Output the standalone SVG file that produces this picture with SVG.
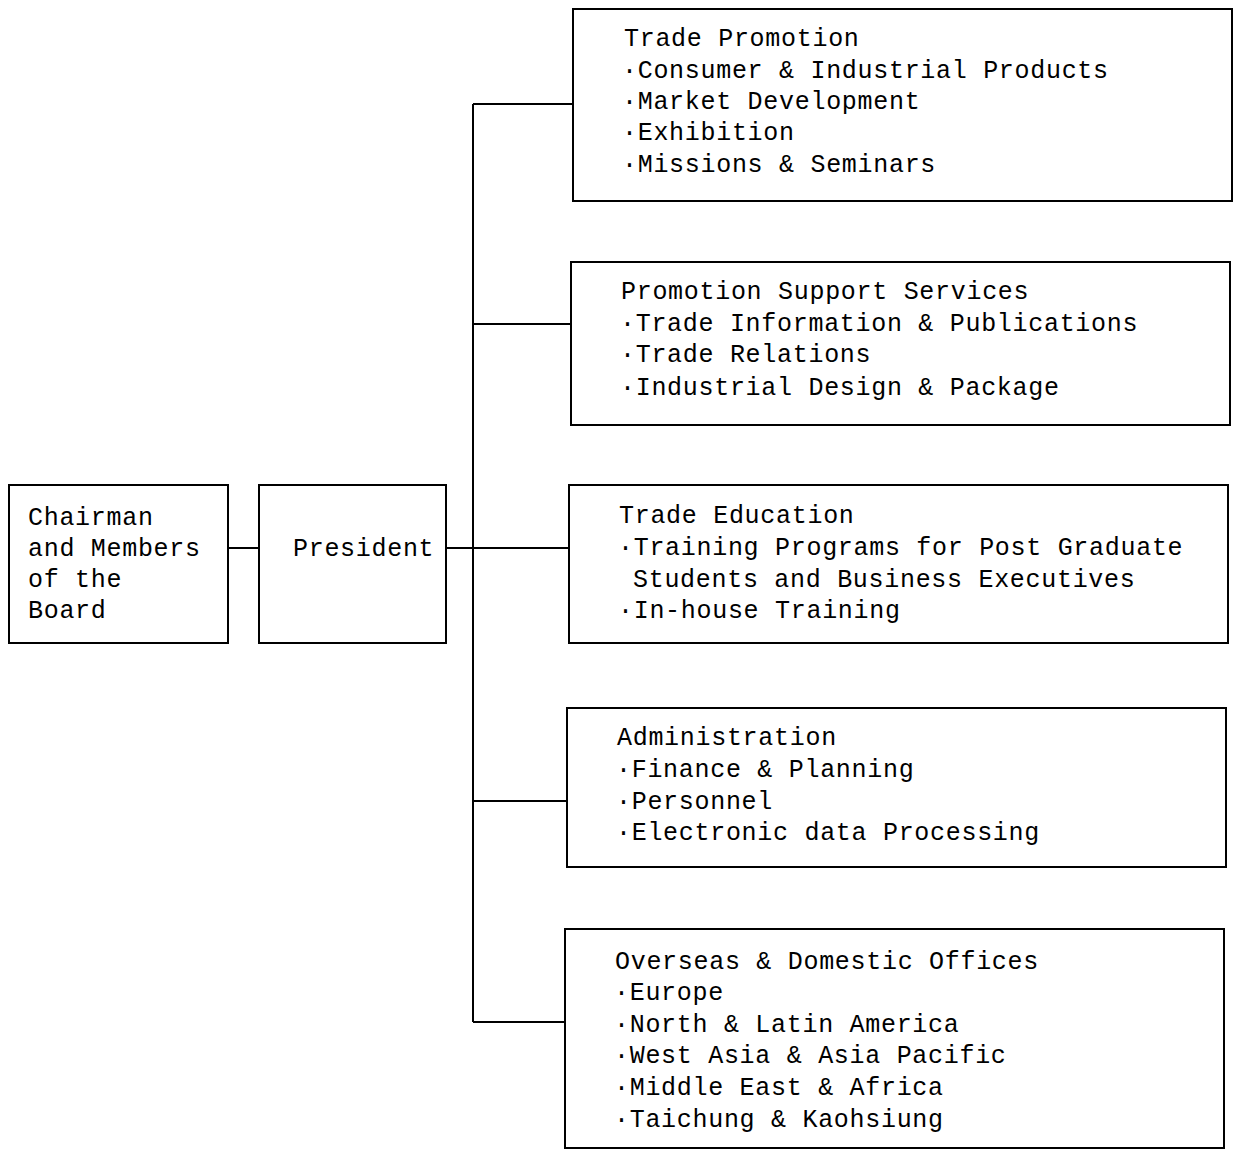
<svg xmlns="http://www.w3.org/2000/svg" width="1234" height="1151" viewBox="0 0 1234 1151">
<style>
.box{fill:none;stroke:#000;stroke-width:2}
.ln{fill:none;stroke:#000;stroke-width:2}
text{font-family:"Liberation Mono","DejaVu Sans Mono",monospace;font-size:25px;letter-spacing:0.7px;fill:#000}
</style>
<rect width="1234" height="1151" fill="#fff"/>
<g id="connectors">
<line class="ln" x1="228" y1="548" x2="259" y2="548"/>
<line class="ln" x1="446" y1="548" x2="569" y2="548"/>
<line class="ln" x1="473" y1="104" x2="473" y2="1022"/>
<line class="ln" x1="473" y1="104" x2="573" y2="104"/>
<line class="ln" x1="473" y1="324" x2="571" y2="324"/>
<line class="ln" x1="473" y1="801" x2="567" y2="801"/>
<line class="ln" x1="473" y1="1022" x2="565" y2="1022"/>
</g>
<g id="chairman">
<rect class="box" x="9" y="485" width="219" height="158"/>
<text x="28" y="525">Chairman</text>
<text x="28" y="556">and Members</text>
<text x="28" y="587">of the</text>
<text x="28" y="618">Board</text>
</g>
<g id="president">
<rect class="box" x="259" y="485" width="187" height="158"/>
<text x="293" y="556">President</text>
</g>
<g id="trade-promotion">
<rect class="box" x="573" y="9" width="659" height="192"/>
<text x="624" y="46">Trade Promotion</text>
<text x="622" y="78">·Consumer &amp; Industrial Products</text>
<text x="622" y="109">·Market Development</text>
<text x="622" y="140">·Exhibition</text>
<text x="622" y="172">·Missions &amp; Seminars</text>
</g>
<g id="promotion-support">
<rect class="box" x="571" y="262" width="659" height="163"/>
<text x="621" y="299">Promotion Support Services</text>
<text x="620" y="331">·Trade Information &amp; Publications</text>
<text x="620" y="362">·Trade Relations</text>
<text x="620" y="395">·Industrial Design &amp; Package</text>
</g>
<g id="trade-education">
<rect class="box" x="569" y="485" width="659" height="158"/>
<text x="619" y="523">Trade Education</text>
<text x="618" y="555">·Training Programs for Post Graduate</text>
<text x="633" y="587">Students and Business Executives</text>
<text x="618" y="618">·In-house Training</text>
</g>
<g id="administration">
<rect class="box" x="567" y="708" width="659" height="159"/>
<text x="617" y="745">Administration</text>
<text x="616" y="777">·Finance &amp; Planning</text>
<text x="616" y="809">·Personnel</text>
<text x="616" y="840">·Electronic data Processing</text>
</g>
<g id="overseas">
<rect class="box" x="565" y="929" width="659" height="219"/>
<text x="615" y="969">Overseas &amp; Domestic Offices</text>
<text x="614" y="1000">·Europe</text>
<text x="614" y="1032">·North &amp; Latin America</text>
<text x="614" y="1063">·West Asia &amp; Asia Pacific</text>
<text x="614" y="1095">·Middle East &amp; Africa</text>
<text x="614" y="1127">·Taichung &amp; Kaohsiung</text>
</g>
</svg>
